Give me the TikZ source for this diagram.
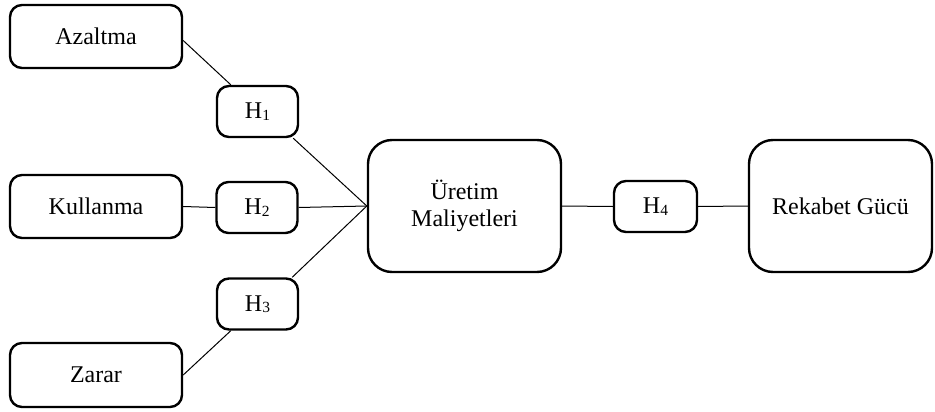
\documentclass[tikz,border=0pt]{standalone}
\usepackage{fontspec}
\setmainfont{Liberation Serif}
\usetikzlibrary{calc}
\newcommand{\hsub}[1]{H\raisebox{-1.5pt}{\fontsize{15.5}{15.5}\selectfont #1}}
\begin{document}
\begin{tikzpicture}[x=1pt,y=-1pt,
  box/.style={draw=black,line width=2.4pt,rounded corners=12pt,fill=white,align=center,inner sep=0pt,font=\fontsize{24}{27}\selectfont},
  bigbox/.style={box,rounded corners=24pt},
  conn/.style={draw=black,line width=1pt}]
\useasboundingbox (0,0) rectangle (935,412);
\node[box,minimum width=172pt,minimum height=63pt] (az) at (96,36.5) {Azaltma};
\node[box,minimum width=172pt,minimum height=63pt] (ku) at (96,206.5) {Kullanma};
\node[box,minimum width=172pt,minimum height=64pt] (za) at (96,375) {Zarar};
\node[box,minimum width=81pt,minimum height=51pt] (h1) at (257.5,111.5) {\hsub{1}};
\node[box,minimum width=81pt,minimum height=51pt] (h2) at (257,207.5) {\hsub{2}};
\node[box,minimum width=81pt,minimum height=51pt] (h3) at (257.5,304) {\hsub{3}};
\node[bigbox,minimum width=193pt,minimum height=132pt] (ur) at (464.5,206) {Üretim\\Maliyetleri};
\node[box,minimum width=83pt,minimum height=51pt] (h4) at (655.5,206.5) {\hsub{4}};
\node[bigbox,minimum width=183pt,minimum height=132pt] (re) at (840.5,206) {Rekabet Gücü};
\coordinate (h1t) at ($(h1.north west)+(15,0)$);
\coordinate (h1b) at ($(h1.south east)+(-6,0)$);
\coordinate (h3t) at ($(h3.north east)+(-7,0)$);
\coordinate (h3b) at ($(h3.south west)+(15,0)$);
\coordinate (azr) at ($(az.east)+(0,4)$);
\draw[conn] (azr) -- (h1t);
\draw[conn] (h1b) -- (ur.west);
\draw[conn] (ku.east) -- (h2.west);
\draw[conn] (h2.east) -- (ur.west);
\draw[conn] (za.east) -- (h3b);
\draw[conn] (h3t) -- (ur.west);
\draw[conn] (ur.east) -- (h4.west);
\draw[conn] (h4.east) -- (re.west);
\end{tikzpicture}
\end{document}
